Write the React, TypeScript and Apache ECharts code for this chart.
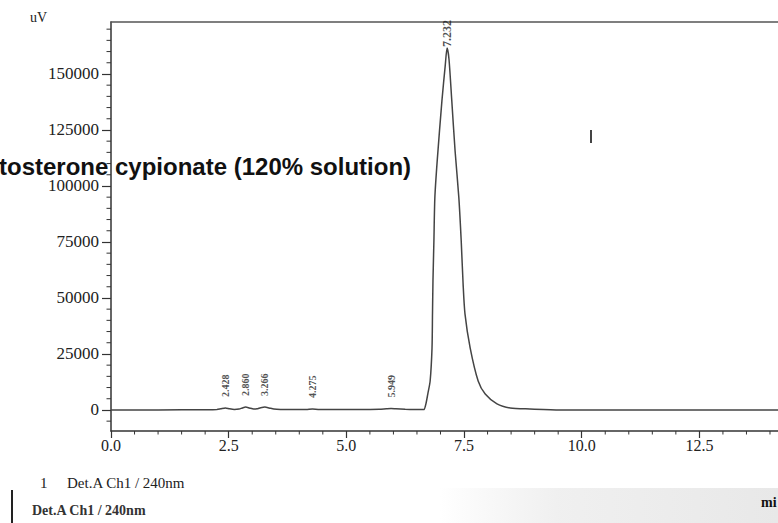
import React, { useEffect, useRef } from "react";
import * as echarts from "echarts";

// Chromatogram trace (time in min, signal in uV)
const traceTimes = [
  0, 1.0, 2.0, 2.25, 2.33, 2.43, 2.52, 2.62, 2.72, 2.79, 2.86, 2.94, 3.03, 3.1, 3.18, 3.27, 3.36, 3.46, 3.6,
  3.9, 4.15, 4.28, 4.4, 4.7, 5.3, 5.7, 5.85, 5.95, 6.05, 6.25, 6.45, 6.6, 6.65,
  6.69, 6.73, 6.78, 6.82, 6.83, 6.84, 6.86, 6.88, 6.93, 7.03, 7.1, 7.14,
  7.18, 7.24, 7.31, 7.39, 7.44, 7.48, 7.52, 7.63, 7.8, 7.95, 8.2, 8.48, 8.9, 9.54, 10.5, 12.0, 14.2,
];
const traceSignal = [
  0, 0, 100, 200, 500, 900, 500, 250, 400, 900, 1300, 900, 400, 500, 1000, 1300, 900, 400, 200,
  150, 200, 400, 250, 200, 200, 300, 500, 600, 500, 300, 200, 150, 200,
  2700, 7100, 12900, 27700, 42900, 57600, 75500, 94700, 111200, 138000, 153600, 161600,
  156700, 138000, 115600, 94700, 75500, 56300, 42900, 27700, 12900, 7100, 2700, 900, 450, 0, 0, 0, 0,
];

// Peak annotations
const peakNames = ["2.428", "2.860", "3.266", "4.275", "5.949", "7.232"];
const peakTimes = [2.43, 2.86, 3.27, 4.28, 5.95, 7.14];
const peakHeights = [900, 1300, 1300, 400, 600, 161600];

// Axis ticks / labels
const yLabelValues = [0, 25000, 50000, 75000, 100000, 125000, 150000];
const yMinorValues = [
  -5000, 5000, 10000, 15000, 20000, 30000, 35000, 40000, 45000, 55000, 60000, 65000, 70000,
  80000, 85000, 90000, 95000, 105000, 110000, 115000, 120000, 130000, 135000, 140000, 145000,
  155000, 160000, 165000, 170000,
];
const xLabelValues = [0, 2.5, 5.0, 7.5, 10.0, 12.5];
const xMinorValues = [
  0.5, 1.0, 1.5, 2.0, 3.0, 3.5, 4.0, 4.5, 5.5, 6.0, 6.5, 7.0, 8.0, 8.5, 9.0, 9.5,
  10.5, 11.0, 11.5, 12.0, 13.0, 13.5, 14.0,
];

const Y_MIN = -9400;
const Y_MAX = 173200;
const X_MAX = 14.17;

const SERIF = "'Liberation Serif', 'Times New Roman', serif";
const INK = "#333";

export default function App() {
  const ref = useRef<HTMLDivElement | null>(null);

  useEffect(() => {
    if (!ref.current) return;
    const chart = echarts.init(ref.current, undefined, { renderer: "svg" });

    const traceData = traceTimes.map((t, i) => [t, traceSignal[i]]);
    const labelData = peakNames.map((name, i) => {
      const main = peakHeights[i] > 100000;
      return {
        value: [peakTimes[i], peakHeights[i]],
        name,
        label: {
          fontSize: main ? 12 : 10,
          distance: main ? 1 : 11,
        },
      };
    });
    // minor ticks: [x, y, orientation] -> 0 = x-axis tick, 1 = y-axis tick
    const minorTickData = [
      ...xMinorValues.map((v) => [v, Y_MIN, 0]),
      ...yMinorValues.map((v) => [0, v, 1]),
    ];

    chart.setOption({
      animation: false,
      backgroundColor: "#ffffff",
      grid: { left: 111, right: 0, top: 22, bottom: 92, containLabel: false },
      xAxis: [
        {
          type: "value",
          min: 0,
          max: X_MAX,
          position: "bottom",
          splitLine: { show: false },
          axisLine: { show: true, onZero: false, lineStyle: { color: INK, width: 1.5 } },
          axisTick: {
            show: true,
            interval: 0,
            customValues: xLabelValues,
            length: 7,
            lineStyle: { color: INK, width: 1.2 },
          },
          axisLabel: {
            show: true,
            interval: 0,
            customValues: xLabelValues,
            formatter: (v: number) => v.toFixed(1),
            fontFamily: SERIF,
            fontSize: 16,
            color: "#222",
            margin: 6,
          },
        },
        {
          type: "value",
          min: 0,
          max: X_MAX,
          position: "top",
          splitLine: { show: false },
          axisLine: { show: true, onZero: false, lineStyle: { color: "#555", width: 1.5 } },
          axisTick: { show: false },
          axisLabel: { show: false },
        },
      ],
      yAxis: [
        {
          type: "value",
          min: Y_MIN,
          max: Y_MAX,
          position: "left",
          splitLine: { show: false },
          axisLine: { show: true, onZero: false, lineStyle: { color: INK, width: 1.5 } },
          axisTick: {
            show: true,
            interval: 0,
            customValues: yLabelValues,
            length: 9,
            lineStyle: { color: INK, width: 1.2 },
          },
          axisLabel: {
            show: true,
            interval: 0,
            customValues: yLabelValues,
            formatter: (v: number) => String(v),
            fontFamily: SERIF,
            fontSize: 17,
            color: "#222",
            margin: 12,
          },
        },
      ],
      series: [
        {
          type: "line",
          xAxisIndex: 0,
          yAxisIndex: 0,
          data: traceData,
          symbol: "none",
          smooth: 0.25,
          lineStyle: { color: "#444", width: 1.5 },
          z: 3,
        },
        {
          type: "scatter",
          xAxisIndex: 0,
          yAxisIndex: 0,
          data: labelData,
          symbolSize: 0,
          silent: true,
          label: {
            show: true,
            position: "top",
            rotate: 90,
            align: "left",
            verticalAlign: "middle",
            formatter: (p: any) => p.name,
            fontFamily: SERIF,
            fontWeight: "bold",
            color: "#222",
          },
          z: 4,
        },
        {
          type: "custom",
          xAxisIndex: 0,
          yAxisIndex: 0,
          silent: true,
          clip: false,
          data: minorTickData,
          renderItem: (_params: any, api: any) => {
            const orient = api.value(2);
            const p = api.coord([api.value(0), api.value(1)]);
            if (orient === 0) {
              return {
                type: "line",
                shape: { x1: p[0], y1: p[1], x2: p[0], y2: p[1] + 3.5 },
                style: { stroke: INK, lineWidth: 1 },
              };
            }
            return {
              type: "line",
              shape: { x1: p[0] - 4.5, y1: p[1], x2: p[0], y2: p[1] },
              style: { stroke: INK, lineWidth: 1 },
            };
          },
          z: 2,
        },
      ],
      graphic: [
        {
          type: "rect",
          z: -10,
          shape: { x: 440, y: 488, width: 338, height: 35 },
          style: {
            fill: new echarts.graphic.LinearGradient(0, 0, 1, 0, [
              { offset: 0, color: "rgba(236,236,236,0)" },
              { offset: 0.35, color: "rgba(238,238,238,0.9)" },
              { offset: 1, color: "rgba(232,232,232,1)" },
            ]),
          },
        },
        {
          type: "text",
          x: 30,
          y: 17,
          style: { text: "uV", fontFamily: SERIF, fontSize: 14, fill: "#222", verticalAlign: "middle" },
        },
        {
          type: "text",
          x: -1,
          y: 166,
          z: 10,
          style: {
            text: "tosterone cypionate (120% solution)",
            fontFamily: "'Liberation Sans', Arial, sans-serif",
            fontWeight: "bold",
            fontSize: 24,
            fill: "#111",
            verticalAlign: "middle",
          },
        },
        {
          type: "text",
          x: 40,
          y: 483,
          style: { text: "1", fontFamily: SERIF, fontSize: 15, fill: "#222", verticalAlign: "middle" },
        },
        {
          type: "text",
          x: 67,
          y: 483,
          style: {
            text: "Det.A Ch1 / 240nm",
            fontFamily: SERIF,
            fontSize: 15,
            fill: "#222",
            verticalAlign: "middle",
          },
        },
        {
          type: "text",
          x: 32,
          y: 510,
          style: {
            text: "Det.A Ch1 / 240nm",
            fontFamily: SERIF,
            fontSize: 14,
            fontWeight: "bold",
            fill: "#333",
            verticalAlign: "middle",
          },
        },
        {
          type: "line",
          shape: { x1: 12, y1: 490, x2: 12, y2: 523 },
          style: { stroke: "#222", lineWidth: 2 },
        },
        {
          type: "text",
          x: 761,
          y: 502,
          style: {
            text: "mi",
            fontFamily: SERIF,
            fontSize: 14,
            fontWeight: "bold",
            fill: "#111",
            verticalAlign: "middle",
          },
        },
        {
          type: "line",
          shape: { x1: 591, y1: 130, x2: 591, y2: 143 },
          style: { stroke: "#444", lineWidth: 2 },
        },
      ],
    });

    return () => chart.dispose();
  }, []);

  return (
    <div
      ref={ref}
      style={{ position: "absolute", left: 0, top: 0, width: 778, height: 523, background: "#fff" }}
    />
  );
}
